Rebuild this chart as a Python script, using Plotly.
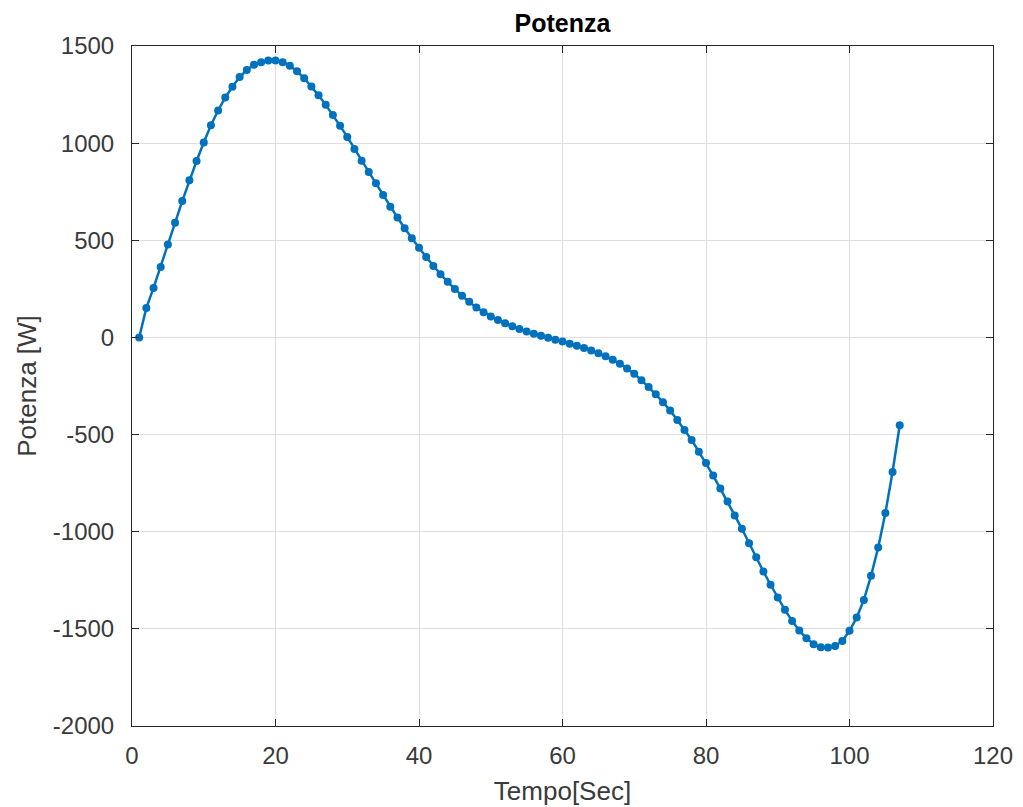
import plotly.graph_objects as go

tempo = list(range(1, 108))
potenza = [
    0, 152, 255, 363, 478, 590, 702, 809, 908, 1003,
    1092, 1168, 1235, 1290, 1340, 1377, 1403, 1417, 1425, 1425,
    1416, 1398, 1370, 1334, 1292, 1246, 1197, 1145, 1089, 1032,
    970, 910, 852, 793, 733, 673, 617, 562, 510, 462,
    414, 368, 325, 286, 249, 214, 183, 154, 130, 108,
    90, 73, 57, 43, 31, 19, 9, -2, -12, -21,
    -32, -43, -55, -67, -81, -97, -115, -136, -160, -187,
    -220, -255, -293, -333, -376, -425, -476, -528, -588, -646,
    -711, -778, -844, -916, -985, -1060, -1132, -1205, -1273, -1339,
    -1402, -1459, -1509, -1548, -1579, -1595, -1596, -1588, -1562, -1510,
    -1442, -1351, -1227, -1081, -904, -693, -452,
]
x_ticks = [0, 20, 40, 60, 80, 100, 120]
y_ticks = [-2000, -1500, -1000, -500, 0, 500, 1000, 1500]

FONT = "Liberation Sans, Arial, sans-serif"
AX = "#262626"
TXT = "#3a3a3a"
GRID = "#dfdfdf"

fig = go.Figure()
fig.add_trace(go.Scatter(
    x=tempo, y=potenza, mode="lines+markers",
    line=dict(color="#0072BD", width=2.5),
    marker=dict(color="#0072BD", size=8, symbol="circle"),
    showlegend=False,
))

axis_common = dict(
    showline=True, linecolor=AX, linewidth=1, mirror="ticks",
    ticks="inside", ticklen=7, tickcolor=AX, tickwidth=1,
    showgrid=True, gridcolor=GRID, gridwidth=1, zeroline=False,
    tickfont=dict(family=FONT, size=24, color=TXT),
    automargin=False,
)

fig.update_xaxes(
    range=[0, 120], tickvals=x_ticks, ticktext=[str(v) for v in x_ticks],
    title=dict(text="Tempo[Sec]", font=dict(family=FONT, size=26, color=TXT), standoff=14),
    ticklabelstandoff=8,
    **axis_common,
)
fig.update_yaxes(
    range=[-2000, 1500], tickvals=y_ticks, ticktext=[str(v) for v in y_ticks],
    title=dict(text="Potenza [W]", font=dict(family=FONT, size=26, color=TXT), standoff=8),
    ticklabelstandoff=12,
    **axis_common,
)

fig.update_layout(
    width=1023, height=807,
    margin=dict(l=132, r=30, t=46, b=81),
    paper_bgcolor="white", plot_bgcolor="white",
    title=dict(text="<b>Potenza</b>", x=0.5, xanchor="center", xref="paper",
               y=1 - 23 / 807, yanchor="middle",
               font=dict(family=FONT, size=25, color="#000000")),
)

fig.write_html("out.html")
